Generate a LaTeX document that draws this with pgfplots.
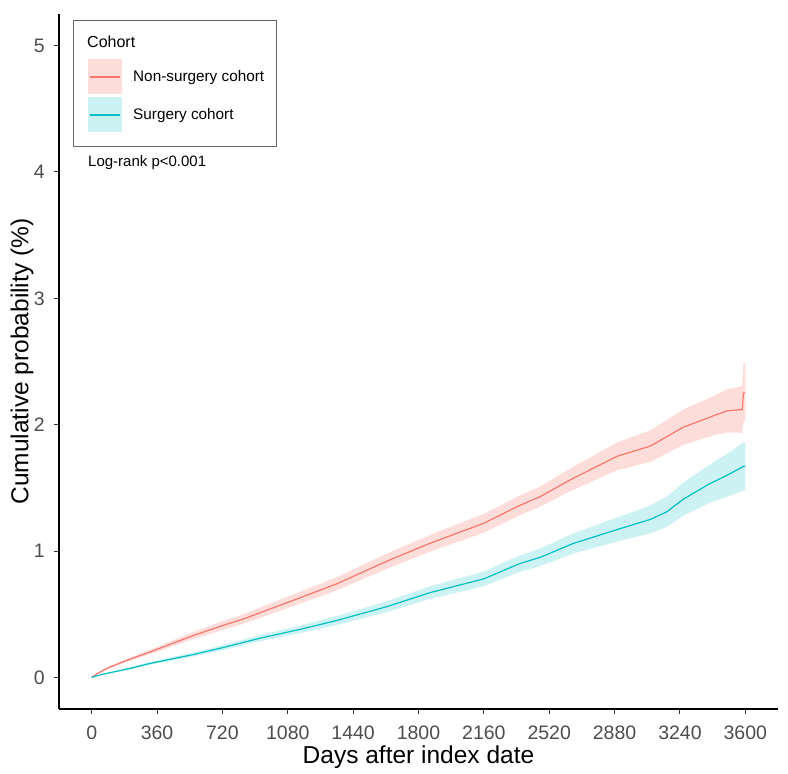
\documentclass[border=0pt]{standalone}
\usepackage{pgfplots}
\pgfplotsset{compat=1.18}
\usepackage{fontspec}
\setmainfont{Liberation Sans}
\definecolor{kmred}{HTML}{F8766D}
\definecolor{kmblue}{HTML}{00BFC4}
\definecolor{redband}{HTML}{FDDDDA}
\definecolor{blueband}{HTML}{CCF2F3}
\definecolor{tickgray}{HTML}{4D4D4D}
\definecolor{tickline}{HTML}{333333}
\begin{document}
\begin{tikzpicture}
\begin{axis}[
  scale only axis,
  width=719pt, height=695pt,
  xmin=-180, xmax=3780,
  ymin=-0.25, ymax=5.25,
  axis x line*=bottom, axis y line*=left,
  axis line style={line width=1.3pt, black},
  xtick={0,360,720,1080,1440,1800,2160,2520,2880,3240,3600},
  ytick={0,1,2,3,4,5},
  tick align=outside,
  major tick length=5pt,
  tick style={color=tickline, line width=1pt},
  /pgf/number format/assume math mode=true,
  /pgf/number format/1000 sep={},
  xticklabel style={font=\fontsize{19.5}{22}\selectfont, text=tickgray, anchor=base, yshift=-26pt, inner sep=0pt},
  yticklabel style={font=\fontsize{19.5}{22}\selectfont, text=tickgray, anchor=east, xshift=-9pt, inner sep=0pt},
  xlabel={Days after index date},
  ylabel={Cumulative probability (\%)},
  every axis x label/.style={at={(rel axis cs:0.5,0)}, yshift=-48pt, anchor=center, font=\fontsize{24.5}{28}\selectfont},
  every axis y label/.style={at={(rel axis cs:0,0.5)}, xshift=-37pt, rotate=90, anchor=center, font=\fontsize{24.5}{28}\selectfont},
]
% Non-surgery band
\addplot[draw=none, fill=redband] coordinates {
(0,0) (30,0.035) (90,0.083) (193,0.147) (319,0.218) (557,0.358) (720,0.445) (831,0.498) (1147,0.677) (1349,0.792) (1626,0.98) (1861,1.126) (2160,1.295) (2356,1.438) (2470,1.51) (2631,1.65) (2894,1.86) (3076,1.955) (3258,2.12) (3424,2.225) (3500,2.28) (3583,2.305) (3590,2.49) (3600,2.49)
(3600,2.03) (3590,2.03) (3583,1.935) (3500,1.94) (3424,1.915) (3258,1.84) (3076,1.705) (2894,1.64) (2631,1.47) (2470,1.35) (2356,1.282) (2160,1.145) (1861,0.994) (1626,0.86) (1349,0.688) (1147,0.583) (831,0.422) (720,0.375) (557,0.302) (319,0.182) (193,0.123) (90,0.067) (30,0.025) (0,0)
} -- cycle;
% Surgery band
\addplot[draw=none, fill=blueband] coordinates {
(0,0) (60,0.029) (193,0.073) (319,0.121) (557,0.196) (720,0.255) (926,0.335) (1147,0.41) (1349,0.486) (1626,0.603) (1861,0.72) (2160,0.838) (2356,0.965) (2470,1.02) (2652,1.14) (2894,1.265) (3076,1.36) (3167,1.43) (3258,1.54) (3400,1.68) (3500,1.77) (3590,1.86) (3600,1.86)
(3600,1.48) (3590,1.48) (3500,1.43) (3400,1.38) (3258,1.28) (3167,1.19) (3076,1.14) (2894,1.075) (2652,0.98) (2470,0.88) (2356,0.835) (2160,0.722) (1861,0.62) (1626,0.517) (1349,0.414) (1147,0.35) (926,0.285) (720,0.215) (557,0.164) (319,0.099) (193,0.057) (60,0.021) (0,0)
} -- cycle;
% Non-surgery line
\addplot[kmred, line width=1.2pt] coordinates {
(0,0) (30,0.03) (90,0.075) (193,0.135) (319,0.20) (557,0.33) (720,0.41) (831,0.46) (1147,0.63) (1349,0.74) (1626,0.92) (1861,1.06) (2160,1.22) (2356,1.36) (2470,1.43) (2631,1.56) (2894,1.75) (3076,1.83) (3258,1.98) (3424,2.07) (3500,2.11) (3583,2.12) (3590,2.25) (3600,2.25)
};
% Surgery line
\addplot[kmblue, line width=1.2pt] coordinates {
(0,0) (60,0.025) (193,0.065) (319,0.11) (557,0.18) (720,0.235) (926,0.31) (1147,0.38) (1349,0.45) (1626,0.56) (1861,0.67) (2160,0.78) (2356,0.90) (2470,0.95) (2652,1.06) (2894,1.17) (3076,1.25) (3167,1.31) (3258,1.41) (3400,1.53) (3500,1.60) (3590,1.67) (3600,1.67)
};
\end{axis}
% Legend
\draw[draw=black!60, line width=0.9pt] (14pt,563pt) rectangle (217pt,689pt);
\node[anchor=west, inner sep=0pt, font=\fontsize{16}{18}\selectfont] at (28pt,667pt) {Cohort};
\fill[redband] (29pt,615pt) rectangle (63pt,650pt);
\draw[kmred, line width=1.2pt] (31pt,632pt) -- (61pt,632pt);
\fill[blueband] (29pt,577pt) rectangle (63pt,612pt);
\draw[kmblue, line width=1.2pt] (31pt,594pt) -- (61pt,594pt);
\node[anchor=west, inner sep=0pt, font=\fontsize{15.3}{18}\selectfont] at (74pt,631pt) {Non-surgery cohort};
\node[anchor=west, inner sep=0pt, font=\fontsize{15.3}{18}\selectfont] at (74pt,593pt) {Surgery cohort};
\node[anchor=west, inner sep=0pt, font=\fontsize{15}{18}\selectfont] at (29pt,546pt) {Log-rank p<0.001};
\pgfresetboundingbox
\path (-59pt,-65pt) rectangle (729pt,709pt);
\end{tikzpicture}
\end{document}
